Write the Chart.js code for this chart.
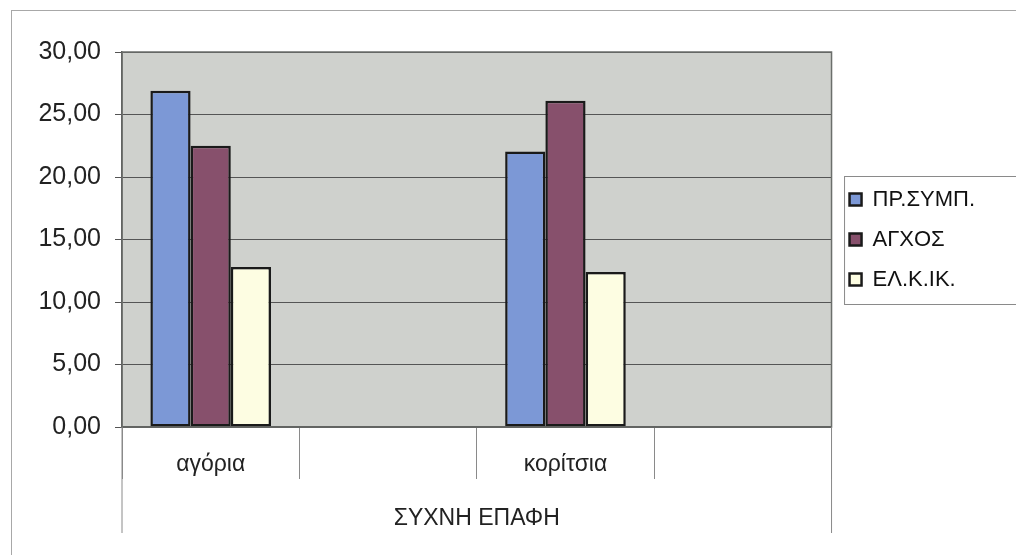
<!DOCTYPE html>
<html>
<head>
<meta charset="utf-8">
<script src="https://cdn.jsdelivr.net/npm/chart.js@4/dist/chart.umd.min.js"></script>
<style>
  html, body { margin: 0; padding: 0; background: #fff; overflow: hidden; }
  #frame { position: absolute; left: 11px; top: 10px; width: 1100px; height: 700px; border: 1px solid #a8a8a8; }
  #wrap { position: absolute; left: 0; top: 0; width: 1016px; height: 555px; }
</style>
</head>
<body>
<div id="frame"></div>
<div id="wrap"><canvas id="chart"></canvas></div>
<script>
// categories (empty slots are the blank cells of the Excel axis)
const categories = ["αγόρια", "", "κορίτσια", ""];
const groupTitle = "ΣΥΧΝΗ ΕΠΑΦΗ";

// series
const seriesNames = ["ΠΡ.ΣΥΜΠ.", "ΑΓΧΟΣ", "ΕΛ.Κ.ΙΚ."];
const prSymp = [26.9, null, 22.05, null];
const agxos = [22.5, null, 26.1, null];
const elKIk = [12.8, null, 12.4, null];

// y axis
const yMin = 0;
const yMax = 30;
const yStep = 5;

const colors = ["#7c98d6", "#87506c", "#fdfde2"];
const FONT = "Liberation Sans, Arial, sans-serif";

// plot area background, extended outer dividers and legend box
const excelLook = {
  id: "excelLook",
  beforeDraw(chart) {
    const { ctx, chartArea } = chart;
    ctx.save();
    ctx.fillStyle = "#cfd1cd";
    ctx.fillRect(chartArea.left, chartArea.top, chartArea.right - chartArea.left, chartArea.bottom - chartArea.top);
    ctx.restore();
  },
  afterDraw(chart) {
    const { ctx, chartArea } = chart;
    ctx.save();
    // plot border
    ctx.strokeStyle = "#6b6e6b";
    ctx.lineWidth = 1.5;
    ctx.strokeRect(chartArea.left, chartArea.top, chartArea.right - chartArea.left, chartArea.bottom - chartArea.top);
    // outer dividers of the grouped category axis
    ctx.strokeStyle = "#8a8a8a";
    ctx.lineWidth = 1;
    [chartArea.left, chartArea.right].forEach(x => {
      ctx.beginPath();
      ctx.moveTo(x, chartArea.bottom);
      ctx.lineTo(x, chartArea.bottom + 106);
      ctx.stroke();
    });
    // legend frame
    const lg = chart.legend;
    if (lg && lg.legendHitBoxes && lg.legendHitBoxes.length) {
      const boxes = lg.legendHitBoxes;
      const top = boxes[0].top - 12;
      const last = boxes[boxes.length - 1];
      const bottom = last.top + last.height + 14;
      const left = boxes[0].left - 5;
      ctx.strokeStyle = "#8a8a8a";
      ctx.strokeRect(left, top, 1016 - left + 10, bottom - top);
    }
    ctx.restore();
  }
};

new Chart(document.getElementById("chart"), {
  type: "bar",
  data: {
    labels: categories,
    datasets: [
      { label: seriesNames[0], data: prSymp, backgroundColor: colors[0] },
      { label: seriesNames[1], data: agxos, backgroundColor: colors[1] },
      { label: seriesNames[2], data: elKIk, backgroundColor: colors[2] }
    ].map(d => Object.assign(d, {
      borderColor: "#1a1a1a",
      borderWidth: 2.5,
      borderSkipped: false,
      categoryPercentage: 0.68,
      barPercentage: 1
    }))
  },
  options: {
    responsive: true,
    maintainAspectRatio: false,
    animation: false,
    layout: { padding: { left: 20, top: 52, right: 31, bottom: 0 } },
    plugins: {
      tooltip: { enabled: false },
      legend: {
        position: "right",
        align: "center",
        fullSize: false,
        labels: {
          font: { family: FONT, size: 22 },
          color: "#111",
          boxWidth: 12,
          boxHeight: 12,
          padding: 18
        }
      }
    },
    scales: {
      x: {
        grid: {
          offset: true,
          drawOnChartArea: false,
          drawTicks: true,
          tickLength: 52,
          color: "#8a8a8a",
          lineWidth: 1
        },
        border: { display: true, color: "#4a4a4a", width: 1.5 },
        ticks: {
          font: { family: FONT, size: 23 },
          color: "#222",
          padding: -28,
          maxRotation: 0,
          autoSkip: false
        },
        title: {
          display: true,
          text: groupTitle,
          font: { family: FONT, size: 23 },
          color: "#222",
          padding: { top: 0, bottom: 23 }
        },
        afterFit(scale) { scale.height = 128; }
      },
      y: {
        min: yMin,
        max: yMax,
        ticks: {
          stepSize: yStep,
          font: { family: FONT, size: 25 },
          color: "#222",
          padding: 14,
          callback: v => v.toFixed(2).replace(".", ",")
        },
        grid: {
          color: "#555",
          lineWidth: 1,
          tickLength: 7
        },
        border: { display: true, color: "#4a4a4a", width: 1.5 },
        afterFit(scale) { scale.width = 102; }
      }
    }
  },
  plugins: [excelLook]
});
</script>
</body>
</html>
